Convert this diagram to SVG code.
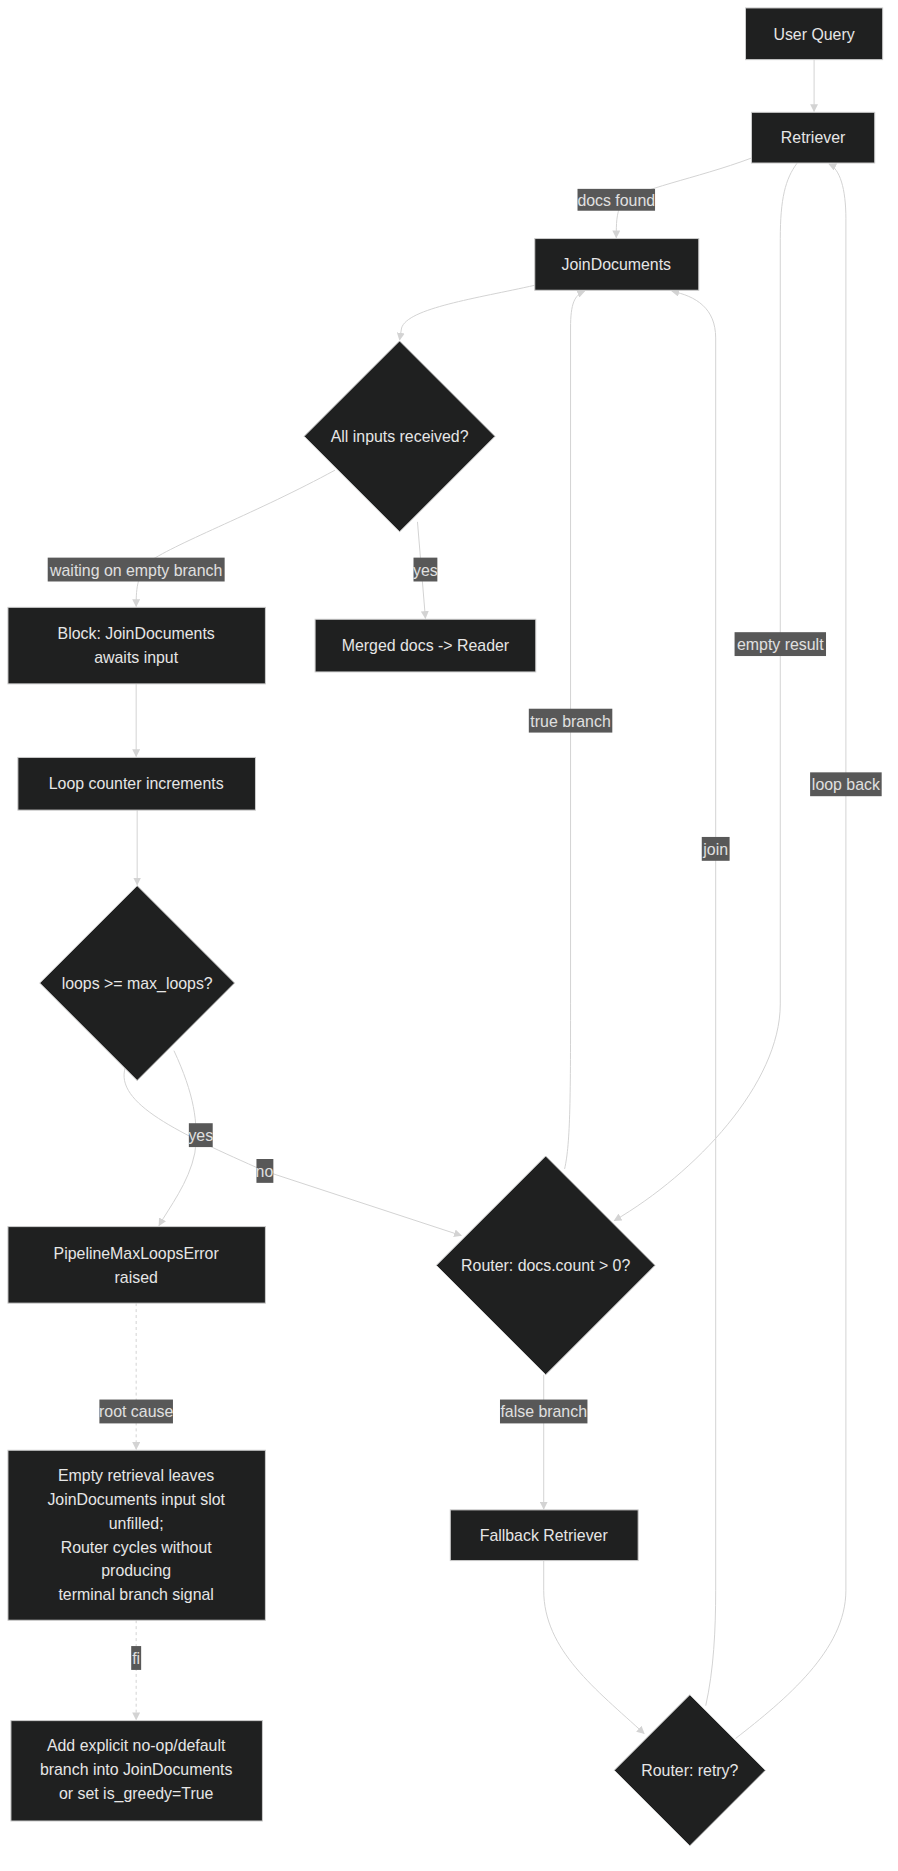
<svg xmlns="http://www.w3.org/2000/svg" width="898" height="1871" viewBox="0 0 898 1871">
<style>
.n{fill:#1f2020;stroke:#cccccc;stroke-width:1}
.t{font-family:"Liberation Sans",Arial,sans-serif;font-size:16px;fill:#e6e6e6;text-anchor:middle}
.e{fill:none;stroke:#d3d3d3;stroke-width:1;marker-end:url(#a)}
.d{stroke-dasharray:3 3}
.lb{fill:#585858}
.lt{font-family:"Liberation Sans",Arial,sans-serif;font-size:16px;fill:#e0e0e0;text-anchor:middle}
</style>
<defs><marker id="a" viewBox="0 0 10 10" refX="9" refY="5" markerWidth="8" markerHeight="8" orient="auto"><path d="M0,0L10,5L0,10z" fill="#d3d3d3"/></marker></defs>
<rect width="898" height="1871" fill="#ffffff"/>
<g transform="scale(0.994)">
<g id="edges">
<path class="e" d="M819,60L819,112"/>
<path class="e" d="M756,159C700,180 640,190 625,205C620,215 620,225 620,239"/>
<path class="e" d="M538,287C480,300 410,310 404,330L402,342"/>
<path class="e" d="M337,473C260,515 180,545 150,565C137,580 137,595 137,610"/>
<path class="e" d="M420,525L428,622"/>
<path class="e" d="M137,688L137,761"/>
<path class="e" d="M138,815L138,890"/>
<path class="e" d="M126,1074C115,1110 180,1140 266,1178L464,1243"/>
<path class="e" d="M175,1057C195,1100 200,1130 196,1160C190,1190 170,1215 160,1233"/>
<path class="e" d="M568,1176C574,1150 574,1100 574,1000L574,330C574,305 578,297 588,293"/>
<path class="e" d="M802,164C790,180 785,200 785,240L785,1010C785,1090 700,1180 618,1228"/>
<path class="e" d="M547,1383L547,1518"/>
<path class="e" d="M547,1570L547,1600C547,1660 600,1700 648,1744"/>
<path class="e" d="M710,1716C718,1680 720,1640 720,1600L720,340C720,310 700,298 676,293"/>
<path class="e" d="M740,1749C790,1710 851,1660 851,1600L851,220C851,190 845,170 834,165"/>
<path class="e d" d="M137,1311L137,1458"/>
<path class="e d" d="M137,1630L137,1730"/>
</g>
<g id="labels">
<rect class="lb" x="581" y="190" width="78" height="22"/><text class="lt" x="620" y="207">docs found</text>
<rect class="lb" x="48" y="561" width="178" height="24"/><text class="lt" x="137" y="579">waiting on empty branch</text>
<rect class="lb" x="416" y="561" width="24" height="24"/><text class="lt" x="428" y="579">yes</text>
<rect class="lb" x="190" y="1130" width="24" height="24"/><text class="lt" x="202" y="1148">yes</text>
<rect class="lb" x="258" y="1166" width="17" height="24"/><text class="lt" x="266" y="1184">no</text>
<rect class="lb" x="100" y="1408" width="74" height="24"/><text class="lt" x="137" y="1426">root cause</text>
<rect class="lb" x="503" y="1408" width="88" height="24"/><text class="lt" x="547" y="1426">false branch</text>
<rect class="lb" x="132" y="1656" width="10" height="24"/><text class="lt" x="137" y="1674">fi</text>
<rect class="lb" x="532" y="713" width="84" height="24"/><text class="lt" x="574" y="731">true branch</text>
<rect class="lb" x="739" y="636" width="92" height="24"/><text class="lt" x="785" y="654">empty result</text>
<rect class="lb" x="706" y="842" width="28" height="24"/><text class="lt" x="720" y="860">join</text>
<rect class="lb" x="815" y="777" width="72" height="24"/><text class="lt" x="851" y="795">loop back</text>
</g>
<g id="userQuery"><rect class="n" x="750" y="8" width="138" height="52"/><text class="t" x="819" y="40">User Query</text></g>
<g id="retriever"><rect class="n" x="756" y="113" width="124" height="51"/><text class="t" x="818" y="144">Retriever</text></g>
<g id="joinDocuments"><rect class="n" x="538" y="240" width="165" height="52"/><text class="t" x="620" y="272">JoinDocuments</text></g>
<g id="allInputs"><polygon class="n" points="402,343 498,439 402,535 306,439"/><text class="t" x="402" y="445">All inputs received?</text></g>
<g id="block"><rect class="n" x="8" y="611" width="259" height="77"/><text class="t" x="137" y="643">Block: JoinDocuments</text><text class="t" x="137" y="667">awaits input</text></g>
<g id="merged"><rect class="n" x="317" y="623" width="222" height="53"/><text class="t" x="428" y="655">Merged docs -&gt; Reader</text></g>
<g id="loopCounter"><rect class="n" x="18" y="762" width="239" height="53"/><text class="t" x="137" y="794">Loop counter increments</text></g>
<g id="loopsMax"><polygon class="n" points="138,891 236,989 138,1087 40,989"/><text class="t" x="138" y="995">loops &gt;= max_loops?</text></g>
<g id="maxLoopsError"><rect class="n" x="8" y="1234" width="259" height="77"/><text class="t" x="137" y="1267">PipelineMaxLoopsError</text><text class="t" x="137" y="1291">raised</text></g>
<g id="routerDocs"><polygon class="n" points="549,1163 659,1273 549,1383 439,1273"/><text class="t" x="549" y="1279">Router: docs.count &gt; 0?</text></g>
<g id="rootCause"><rect class="n" x="8" y="1459" width="259" height="171"/>
<text class="t" x="137" y="1490">Empty retrieval leaves</text><text class="t" x="137" y="1514">JoinDocuments input slot</text><text class="t" x="137" y="1538">unfilled;</text><text class="t" x="137" y="1562">Router cycles without</text><text class="t" x="137" y="1586">producing</text><text class="t" x="137" y="1610">terminal branch signal</text></g>
<g id="fallback"><rect class="n" x="453" y="1519" width="189" height="51"/><text class="t" x="547" y="1550">Fallback Retriever</text></g>
<g id="fix"><rect class="n" x="11" y="1731" width="253" height="101"/><text class="t" x="137" y="1762">Add explicit no-op/default</text><text class="t" x="137" y="1786">branch into JoinDocuments</text><text class="t" x="137" y="1810">or set is_greedy=True</text></g>
<g id="routerRetry"><polygon class="n" points="694,1705 770,1781 694,1857 618,1781"/><text class="t" x="694" y="1787">Router: retry?</text></g>
</g>
</svg>
